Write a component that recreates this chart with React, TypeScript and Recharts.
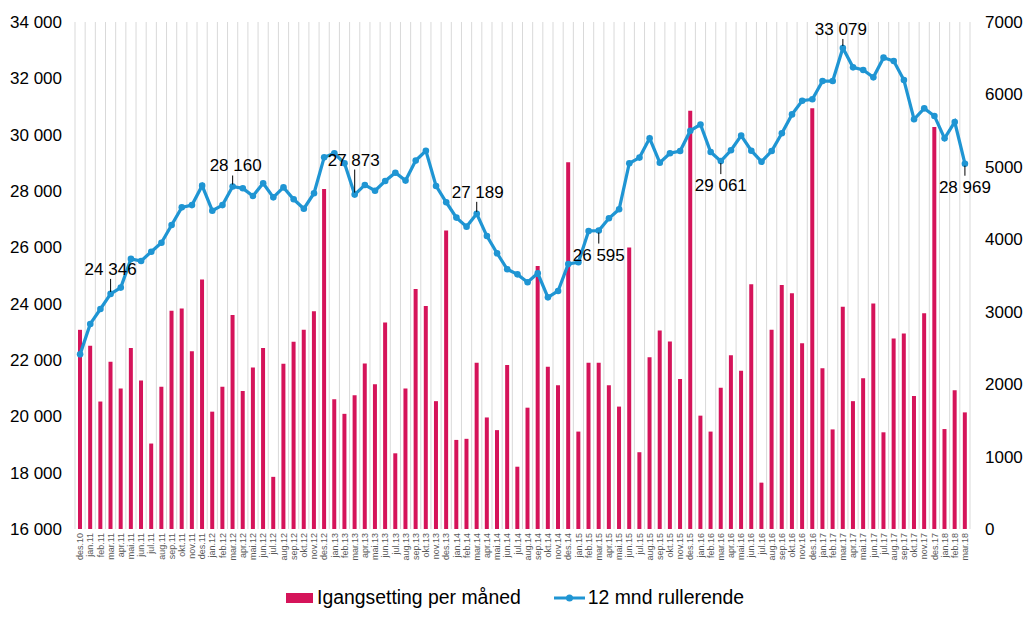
import {
  ComposedChart,
  Bar,
  Line,
  XAxis,
  YAxis,
  CartesianGrid,
  LabelList,
} from "recharts";

const months = [
  "des.10",
  "jan.11", "feb.11", "mar.11", "apr.11", "mai.11", "jun.11", "jul.11", "aug.11", "sep.11", "okt.11", "nov.11", "des.11",
  "jan.12", "feb.12", "mar.12", "apr.12", "mai.12", "jun.12", "jul.12", "aug.12", "sep.12", "okt.12", "nov.12", "des.12",
  "jan.13", "feb.13", "mar.13", "apr.13", "mai.13", "jun.13", "jul.13", "aug.13", "sep.13", "okt.13", "nov.13", "des.13",
  "jan.14", "feb.14", "mar.14", "apr.14", "mai.14", "jun.14", "jul.14", "aug.14", "sep.14", "okt.14", "nov.14", "des.14",
  "jan.15", "feb.15", "mar.15", "apr.15", "mai.15", "jun.15", "jul.15", "aug.15", "sep.15", "okt.15", "nov.15", "des.15",
  "jan.16", "feb.16", "mar.16", "apr.16", "mai.16", "jun.16", "jul.16", "aug.16", "sep.16", "okt.16", "nov.16", "des.16",
  "jan.17", "feb.17", "mar.17", "apr.17", "mai.17", "jun.17", "jul.17", "aug.17", "sep.17", "okt.17", "nov.17", "des.17",
  "jan.18", "feb.18", "mar.18",
];

// Igangsetting per måned (right axis)
const monthly = [
  2750,
  2530, 1760, 2310, 1940, 2500, 2050, 1180, 1965, 3015, 3045, 2455, 3445,
  1620, 1965, 2955, 1905, 2230, 2500, 720, 2280, 2585, 2750, 3005, 4695,
  1790, 1590, 1845, 2285, 2000, 2850, 1045, 1940, 3315, 3080, 1765, 4120,
  1230, 1245, 2295, 1540, 1365, 2265, 860, 1675, 3630, 2240, 1985, 5065,
  1345, 2295, 2295, 1985, 1690, 3885, 1060, 2370, 2740, 2590, 2070, 5775,
  1565, 1345, 1950, 2400, 2185, 3380, 640, 2750, 3370, 3255, 2565, 5810,
  2220, 1375, 3070, 1765, 2080, 3115, 1335, 2630, 2700, 1835, 2980, 5550,
  1380, 1915, 1610,
];

// 12 mnd rullerende (left axis)
const rolling = [
  22200,
  23280, 23810, 24346, 24570, 25590, 25515, 25845, 26165, 26795, 27420, 27500, 28190,
  27300, 27500, 28160, 28095, 27825, 28275, 27775, 28130, 27705, 27370, 27920, 29195,
  29340, 28985, 27873, 28215, 28010, 28355, 28650, 28370, 29080, 29430, 28180, 27600,
  27055, 26735, 27189, 26400, 25790, 25220, 25040, 24760, 25080, 24225, 24450, 25410,
  25470, 26580, 26595, 27030, 27350, 28985, 29185, 29870, 29005, 29340, 29420, 30140,
  30360, 29385, 29061, 29445, 29965, 29430, 29040, 29420, 30050, 30720, 31205, 31255,
  31905, 31905, 33079, 32390, 32295, 32035, 32735, 32615, 31940, 30545, 30935, 30665,
  29870, 30450, 28969,
];

const leftTicks = [16000, 18000, 20000, 22000, 24000, 26000, 28000, 30000, 32000, 34000];
const rightTicks = [0, 1000, 2000, 3000, 4000, 5000, 6000, 7000];

// which points get a callout, and where the text sits relative to the point
const callouts: Record<string, { dx: number; dy: number }> = {
  "mar.11": { dx: 0, dy: -25 },
  "mar.12": { dx: 3, dy: -21 },
  "mar.13": { dx: -1, dy: -35 },
  "mar.14": { dx: 1, dy: -22 },
  "mar.15": { dx: 0, dy: 24 },
  "mar.16": { dx: 0, dy: 24 },
  "mar.17": { dx: -2, dy: -19 },
  "mar.18": { dx: 0, dy: 23 },
};

const BAR_COLOR = "#D5145A";
const LINE_COLOR = "#1F95D3";
const GRID_COLOR = "#D9D9D9";
const FONT = "'Liberation Sans', Arial, sans-serif";

const data = months.map((m, i) => ({ month: m, monthly: monthly[i], rolling: rolling[i] }));

const fmtThousands = (v: number) => String(v).replace(/\B(?=(\d{3})+(?!\d))/g, " ");

function MonthTick({ x, y, payload }: any) {
  return (
    <g transform={`translate(${x},${y})`}>
      <text transform="rotate(-90)" textAnchor="end" dy="0.35em" fontSize={9} fill="#595959" fontFamily={FONT}>
        {payload.value}
      </text>
    </g>
  );
}

function Callout(props: any) {
  const { x, y, value, index } = props;
  const c = callouts[months[index]];
  if (!c) return null;
  const above = c.dy < 0;
  const ty = y + c.dy;
  return (
    <g>
      <line
        x1={x}
        x2={x}
        y1={above ? y - 2 : y + 2}
        y2={above ? ty + 10 : ty - 11}
        stroke="#000"
        strokeWidth={1}
      />
      <text x={x + c.dx} y={ty} dy="0.35em" textAnchor="middle" fontSize={17} fill="#000" fontFamily={FONT}>
        {fmtThousands(value)}
      </text>
    </g>
  );
}

export default function App() {
  return (
    <div style={{ position: "absolute", left: 0, top: 0, width: 1024, height: 620, background: "#fff", fontFamily: FONT }}>
      <ComposedChart width={1024} height={620} data={data} margin={{ top: 22, right: 0, bottom: 46, left: 0 }}>
        <CartesianGrid
          horizontal={false}
          stroke={GRID_COLOR}
          verticalCoordinatesGenerator={({ offset }: any) =>
            Array.from({ length: months.length + 1 }, (_, i) => offset.left + (i * offset.width) / months.length)
          }
        />
        <XAxis
          dataKey="month"
          interval={0}
          height={45}
          axisLine={false}
          tickLine={false}
          tickSize={0}
          tickMargin={4}
          tick={<MonthTick />}
        />
        <YAxis
          yAxisId="left"
          orientation="left"
          width={75}
          domain={[16000, 34000]}
          ticks={leftTicks}
          tickFormatter={fmtThousands}
          axisLine={false}
          tickLine={false}
          tickSize={6}
          tickMargin={7}
          tick={{ fill: "#000", fontSize: 17, fontFamily: FONT }}
        />
        <YAxis
          yAxisId="right"
          orientation="right"
          width={54}
          domain={[0, 7000]}
          ticks={rightTicks}
          axisLine={false}
          tickLine={false}
          tickSize={6}
          tickMargin={9}
          tick={{ fill: "#000", fontSize: 17, fontFamily: FONT }}
        />
        <Bar yAxisId="right" dataKey="monthly" fill={BAR_COLOR} barSize={4} isAnimationActive={false} />
        <Line
          yAxisId="left"
          dataKey="rolling"
          stroke={LINE_COLOR}
          strokeWidth={3.25}
          dot={{ r: 3.3, fill: LINE_COLOR, stroke: LINE_COLOR, strokeWidth: 0 }}
          activeDot={false}
          isAnimationActive={false}
        >
          <LabelList dataKey="rolling" content={<Callout />} />
        </Line>
      </ComposedChart>

      {/* legend */}
      <div
        style={{
          position: "absolute",
          left: 286,
          top: 587,
          display: "flex",
          alignItems: "center",
          fontSize: 19.4,
          lineHeight: "21px",
          color: "#000",
          whiteSpace: "nowrap",
        }}
      >
        <span style={{ display: "inline-block", width: 27, height: 10, background: BAR_COLOR, marginRight: 4 }} />
        <span>Igangsetting per måned</span>
        <svg width={31} height={12} style={{ marginLeft: 33, marginRight: 3 }}>
          <line x1={0} x2={31} y1={6} y2={6} stroke={LINE_COLOR} strokeWidth={3} />
          <circle cx={15.5} cy={6} r={3.5} fill={LINE_COLOR} />
        </svg>
        <span>12 mnd rullerende</span>
      </div>
    </div>
  );
}
